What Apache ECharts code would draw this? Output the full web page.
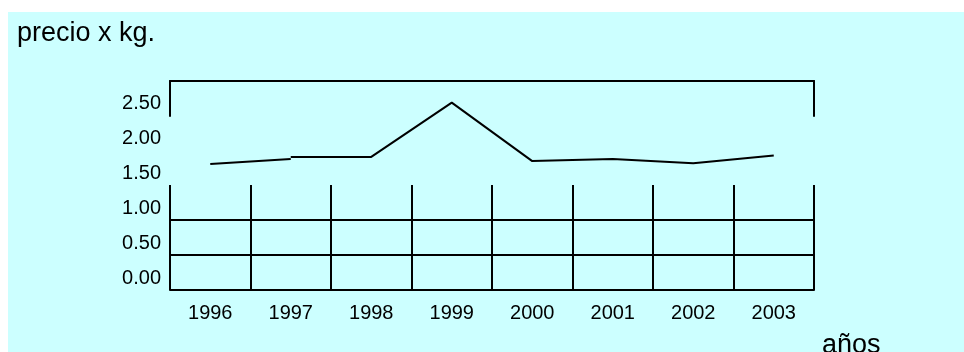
<!DOCTYPE html>
<html>
<head>
<meta charset="utf-8">
<script src="https://cdn.jsdelivr.net/npm/echarts@6/dist/echarts.min.js"></script>
<style>
  html, body { margin: 0; padding: 0; background: #ffffff; }
  #wrap { position: relative; width: 964px; height: 352px; overflow: hidden; }
  #panel { position: absolute; left: 8px; top: 12px; right: 0; bottom: 0; background: #ccffff; }
  #chart { position: absolute; left: 0; top: 0; width: 964px; height: 352px; }
</style>
</head>
<body>
<div id="wrap"><div id="panel"></div><div id="chart"></div></div>
<script>
// ---- data ----
const years = ['1996', '1997', '1998', '1999', '2000', '2001', '2002', '2003'];
// first short segment (1996-1997)
const segYearsA = ['1996', '1997'];
const segPriceA = [1.81, 1.88];
// main segment (1997-2003)
const segYearsB = ['1997', '1998', '1999', '2000', '2001', '2002', '2003'];
const segPriceB = [1.91, 1.91, 2.69, 1.85, 1.88, 1.82, 1.93];
const titleText = 'precio x kg.';
const xName = 'años';

const FONT = '"Liberation Sans", Arial, sans-serif';
const chart = echarts.init(document.getElementById('chart'), null, { renderer: 'canvas' });

const hiddenAxis = {
  axisLine: { show: false }, axisTick: { show: false },
  axisLabel: { show: false }, splitLine: { show: false }
};

const option = {
  backgroundColor: 'transparent',
  animation: false,
  title: [
    { text: titleText, left: 17, top: 20, padding: 0,
      textStyle: { fontFamily: FONT, fontSize: 27, fontWeight: 'normal', color: '#000' } },
    { text: xName, left: 822, top: 332, padding: 0,
      textStyle: { fontFamily: FONT, fontSize: 27, fontWeight: 'normal', color: '#000' } }
  ],
  grid: [
    // 0: main plotting grid (0 - 3)
    { left: 170, right: 150, top: 81, height: 209 },
    // 1: lower gridlines (0 - 1.5)
    { left: 170, right: 150, top: 185, height: 105 },
    // 2: upper frame (2.5 - 3)
    { left: 170, right: 150, top: 81, height: 35 }
  ],
  xAxis: [
    Object.assign({ type: 'category', data: years, gridIndex: 0, boundaryGap: true }, hiddenAxis),
    { type: 'category', data: years, gridIndex: 1, boundaryGap: true,
      axisLine: { show: true, lineStyle: { color: '#000', width: 2 } },
      axisTick: { show: false },
      axisLabel: { show: true, margin: 13, fontFamily: FONT, fontSize: 20, color: '#000' },
      splitLine: { show: true, lineStyle: { color: '#000', width: 2 } } },
    { type: 'category', data: years, gridIndex: 2, position: 'top', boundaryGap: true,
      axisLine: { show: true, onZero: false, lineStyle: { color: '#000', width: 2 } },
      axisTick: { show: false }, axisLabel: { show: false }, splitLine: { show: false } }
  ],
  yAxis: [
    { type: 'value', gridIndex: 0, min: 0, max: 3, interval: 0.5,
      axisLine: { show: false }, axisTick: { show: false }, splitLine: { show: false },
      axisLabel: { show: true, showMaxLabel: false, margin: 9, fontFamily: FONT, fontSize: 20, color: '#000',
        verticalAlign: 'bottom', lineHeight: 24,
        formatter: v => v.toFixed(2) } },
    { type: 'value', gridIndex: 1, min: 0, max: 1.5, interval: 0.5,
      axisLine: { show: false }, axisTick: { show: false }, axisLabel: { show: false },
      splitLine: { show: true, showMinLine: false, showMaxLine: false, lineStyle: { color: '#000', width: 2 } } },
    { type: 'value', gridIndex: 2, min: 2.5, max: 3, position: 'left',
      axisLine: { show: true, onZero: false, lineStyle: { color: '#000', width: 2 } },
      axisTick: { show: false }, axisLabel: { show: false }, splitLine: { show: false } },
    { type: 'value', gridIndex: 2, min: 2.5, max: 3, position: 'right',
      axisLine: { show: true, onZero: false, lineStyle: { color: '#000', width: 2 } },
      axisTick: { show: false }, axisLabel: { show: false }, splitLine: { show: false } }
  ],
  series: [
    { type: 'line', xAxisIndex: 0, yAxisIndex: 0, symbol: 'none',
      data: segYearsA.map((y, i) => [y, segPriceA[i]]),
      lineStyle: { color: '#000', width: 2 }, itemStyle: { color: '#000' } },
    { type: 'line', xAxisIndex: 0, yAxisIndex: 0, symbol: 'none',
      data: segYearsB.map((y, i) => [y, segPriceB[i]]),
      lineStyle: { color: '#000', width: 2 }, itemStyle: { color: '#000' } }
  ]
};
chart.setOption(option);
</script>
</body>
</html>
